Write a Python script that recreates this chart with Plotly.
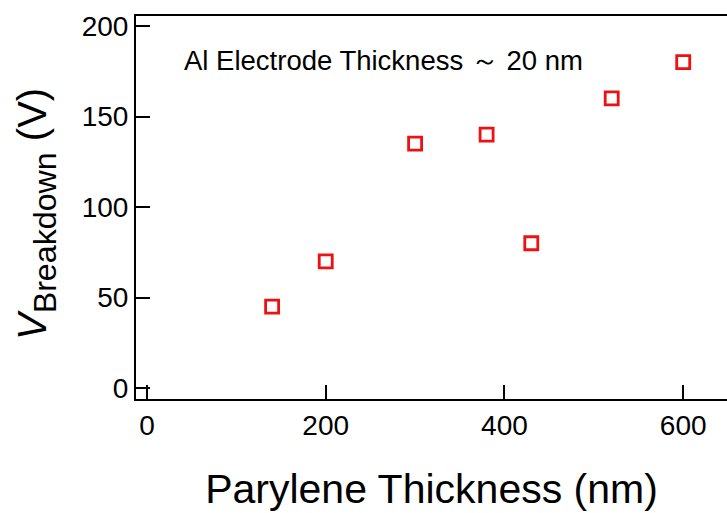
import plotly.graph_objects as go

thickness_nm = [140, 200, 300, 380, 430, 520, 600]
v_breakdown = [45, 70, 135, 140, 80, 160, 180]
x_ticks = [0, 200, 400, 600]
y_ticks = [0, 50, 100, 150, 200]

SANS = "Liberation Sans, Arial, sans-serif"

fig = go.Figure()
fig.add_trace(go.Scatter(
    x=thickness_nm, y=v_breakdown, mode="markers",
    marker=dict(symbol="square-open", size=13, color="#ee1111",
                line=dict(width=2.8, color="#ee1111")),
    showlegend=False,
))

fig.update_layout(
    width=727, height=513,
    margin=dict(l=136, r=0, t=16, b=114),
    paper_bgcolor="white", plot_bgcolor="white",
    font=dict(family=SANS, color="black"),
    xaxis=dict(
        range=[-12.3, 649], tickvals=x_ticks, ticks="inside", ticklen=14,
        tickwidth=1.5, tickcolor="black",
        showline=True, linecolor="black", linewidth=2, mirror=True,
        showgrid=False, zeroline=False,
        tickfont=dict(size=28, family=SANS),
        title=dict(text="Parylene Thickness (nm)", font=dict(size=41, family=SANS), standoff=35),
    ),
    yaxis=dict(
        range=[-6, 205.5], tickvals=y_ticks, ticks="inside", ticklen=14,
        tickwidth=1.5, tickcolor="black",
        showline=True, linecolor="black", linewidth=2, mirror=False,
        showgrid=False, zeroline=False,
        tickfont=dict(size=28, family=SANS),
    ),
)
pw = 727 - 136
ph = 513 - 16 - 114
fig.add_annotation(
    x=(182 - 136) / pw, y=1 - (60 - 16) / ph, xref="paper", yref="paper",
    text="Al Electrode Thickness ～ 20 nm",
    showarrow=False, xanchor="left", yanchor="middle",
    font=dict(size=27.5, family=SANS, color="black"),
)
fig.add_annotation(
    x=(36 - 136) / pw, y=1 - (214 - 16) / ph, xref="paper", yref="paper",
    text="<span style='font-size:40px'><i>V</i></span><sub>Breakdown</sub><span style='font-size:40px'> (V)</span>",
    textangle=-90, showarrow=False, xanchor="center", yanchor="middle",
    font=dict(size=46, family=SANS, color="black"),
)

fig.write_html("out.html")
